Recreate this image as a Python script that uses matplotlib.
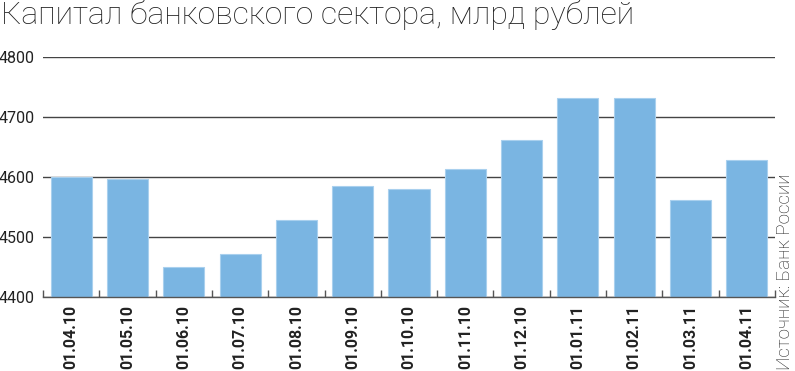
import matplotlib
matplotlib.use("Agg")
import matplotlib.pyplot as plt
import numpy as np

dates = ["01.04.10", "01.05.10", "01.06.10", "01.07.10", "01.08.10", "01.09.10",
         "01.10.10", "01.11.10", "01.12.10", "01.01.11", "01.02.11", "01.03.11", "01.04.11"]
capital = [4600, 4597, 4450, 4472, 4528, 4585, 4580, 4613, 4662, 4732, 4732, 4562, 4629]
yticks = [4400, 4500, 4600, 4700, 4800]
title = "Капитал банковского сектора, млрд рублей"
source = "Источник: Банк России"

W, H = 795, 371
fig = plt.figure(figsize=(W / 100, H / 100), dpi=100)
ax = fig.add_axes([43 / W, 1 - 297 / H, (775 - 43) / W, (297 - 57) / H])

x = np.arange(len(dates))
ax.bar(x, [v - 4400 for v in capital], bottom=4400, width=0.73,
       color="#7AB5E2", edgecolor="#A9D0EE", linewidth=0.8, zorder=3)

ax.set_xlim(-0.5, len(dates) - 0.5)
ax.set_ylim(4400, 4800)
ax.set_yticks(yticks)
ax.set_yticklabels([str(t) for t in yticks], family="Roboto", fontsize=11.5, color="#222222")
ax.yaxis.grid(True, color="#444444", linewidth=1.0, zorder=0)
ax.tick_params(axis="y", length=0, pad=6)

ax.set_xticks(x)
ax.set_xticklabels(dates, rotation=90, family="Roboto", fontweight="bold",
                   fontsize=11.5, color="#222222")
ax.set_xticks(np.arange(-0.5, len(dates), 1.0), minor=True)
ax.tick_params(axis="x", which="major", length=0, pad=6)
ax.tick_params(axis="x", which="minor", length=5, direction="in", color="#555555", width=1)

for s in ["top", "right", "left"]:
    ax.spines[s].set_visible(False)
ax.spines["bottom"].set_color("#555555")
ax.spines["bottom"].set_linewidth(1.0)
ax.spines["bottom"].set_zorder(4)

fig.text(1 / W, 1 - 0 / H, title, ha="left", va="top", family="Roboto",
         fontweight="light", fontsize=23, color="#222222")
fig.text(794 / W, 1 - 370 / H, source, rotation=90, ha="right", va="bottom",
         family="Roboto", fontweight="light", fontsize=13.5, color="#222222")

fig.savefig("out.png", dpi=100)
